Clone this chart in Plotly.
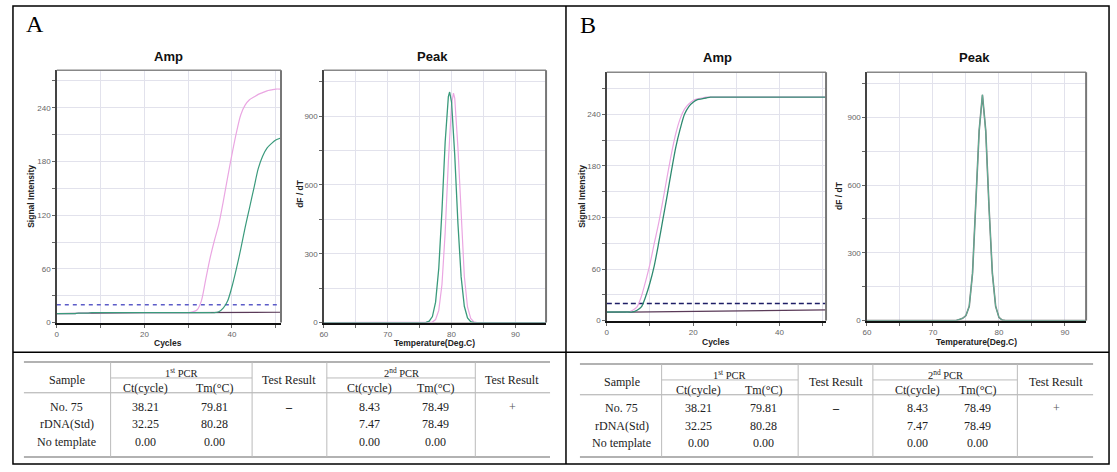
import plotly.graph_objects as go

# ---------------- data ----------------
# Panel A - amplification (cycles 0..51)
cycles_a = [0, 1, 2, 3, 4, 5, 6, 7, 8, 9,
            10, 11, 12, 13, 14, 15, 16, 17, 18, 19,
            20, 21, 22, 23, 24, 25, 26, 27, 28, 29,
            30, 31, 32, 33, 34, 35, 36, 37, 38, 39,
            40, 41, 42, 43, 44, 45, 46, 47, 48, 49,
            50, 51]
amp_a_rdna = [10, 10, 10, 10, 10, 10.5, 10.5, 10.5, 11, 11,
              11, 11, 11, 11, 11, 11, 11, 11, 11, 11,
              11, 11, 11, 11, 11, 11, 11, 11, 11, 11,
              11, 12, 14, 24, 48, 72, 92, 110, 135, 162,
              188, 212, 232, 243, 249, 252, 255, 257, 259, 260,
              261, 261]
amp_a_no75 = [10, 10, 10, 10, 10, 10.5, 10.5, 10.5, 11, 11,
              11, 11, 11, 11, 11, 11, 11, 11, 11, 11,
              11, 11, 11, 11, 11, 11, 11, 11, 11, 11,
              11, 11, 11, 11, 11, 11, 11, 12, 16, 24,
              40, 60, 82, 106, 128, 150, 172, 186, 195, 200,
              204, 206]
ntc_a_cycles = [0, 10, 20, 30, 40, 51]
ntc_a_vals = [10, 10.8, 11, 11, 11.2, 11.5]
threshold_a = 20

# Panel A - melt peak
peak_a_no75_t = [60, 75, 76, 76.5, 77, 77.5, 78, 78.5, 79, 79.5, 79.7, 80, 80.5, 81, 81.5, 82, 82.5, 83, 83.5, 95]
peak_a_no75_v = [0, 0, 1, 6, 26, 89, 237, 489, 787, 985, 1005, 961, 730, 432, 199, 71, 20, 4, 0, 0]
peak_a_rdna_t = [60, 76.5, 77, 77.5, 78, 78.5, 79, 79.5, 80, 80.3, 80.5, 81, 81.5, 82, 82.5, 83, 83.5, 84, 95]
peak_a_rdna_v = [0, 0, 2, 13, 53, 166, 392, 701, 951, 1000, 978, 762, 450, 202, 68, 18, 3, 0, 0]
peak_ntc_t = [60, 95]
peak_ntc_v = [0, 0]

# Panel B - amplification
cycles_b = [0, 1, 2, 3, 4, 5, 6, 7, 8, 9,
            10, 11, 12, 13, 14, 15, 16, 17, 18, 19,
            20, 21, 22, 23, 24, 25, 30, 35, 40, 45, 51]
amp_b_rdna = [10, 10, 10, 10, 10, 10, 12, 16, 28, 46,
              66, 90, 113, 140, 168, 195, 218, 235, 246, 252,
              256, 258, 259, 260, 260, 260, 260, 260, 260, 260, 260]
amp_b_no75 = [10, 10, 10, 10, 10, 10, 10, 12, 16, 28,
              44, 64, 90, 118, 146, 175, 202, 223, 240, 249,
              254, 257, 258, 259, 260, 260, 260, 260, 260, 260, 260]
ntc_b_cycles = [0, 10, 20, 30, 40, 51]
ntc_b_vals = [9.5, 10, 10.8, 11.5, 12, 12.5]
threshold_b = 20

# Panel B - melt peak
peak_b_t = [60, 73.5, 74, 74.5, 75, 75.5, 76, 76.5, 77, 77.5, 78, 78.5, 79, 79.5, 80, 80.5, 81, 95]
peak_b_v = [0, 0, 5, 10, 22, 63, 210, 500, 840, 1000, 840, 500, 210, 63, 14, 2, 0, 0]

# Table (same in both panels)
tbl_samples = ["No. 75", "rDNA(Std)", "No template"]
tbl_ct1 = ["38.21", "32.25", "0.00"]
tbl_tm1 = ["79.81", "80.28", "0.00"]
tbl_res1 = ["–", "", ""]
tbl_ct2 = ["8.43", "7.47", "0.00"]
tbl_tm2 = ["78.49", "78.49", "0.00"]
tbl_res2 = ["+", "", ""]

# ---------------- layout helpers ----------------
W, H = 1117, 472


def px(x):
    return x / W


def py(y):
    return 1 - y / H


PINK = "#eaa6e2"
GREEN = "#3a9a7c"
DARK = "#5a3a58"
GRID = "#e2e2ec"
SANS = "Liberation Sans, Arial, sans-serif"
SERIF = "Liberation Serif, Times New Roman, serif"

fig = go.Figure()
shapes = []
annotations = []

panels = [
    dict(k="", x0=53, x1=278, y0=71, y1=326, xr=[0, 51.2], yr=[0, 282], xt0=0, xd=20, xm=10, yd=60, ym=30),
    dict(k="2", x0=321, x1=544, y0=71, y1=326, xr=[60, 94.8], yr=[0, 1100], xt0=60, xd=10, xm=5, yd=300, ym=150),
    dict(k="3", x0=605, x1=825, y0=73, y1=324, xr=[0, 50.8], yr=[0, 289], xt0=0, xd=20, xm=10, yd=60, ym=30),
    dict(k="4", x0=866, x1=1086, y0=73, y1=324, xr=[60, 93.2], yr=[0, 1100], xt0=60, xd=10, xm=5, yd=300, ym=150),
]

for p in panels:
    k = p["k"]
    fig.layout["xaxis" + k] = dict(
        domain=[px(p["x0"]), px(p["x1"])], anchor="y" + k, range=p["xr"],
        tick0=p["xt0"], dtick=p["xd"], showgrid=True, gridcolor=GRID, gridwidth=1,
        zeroline=False, showline=True, linecolor="#111", linewidth=2,
        ticks="outside", ticklen=3, tickcolor="#666", tickwidth=1,
        tickfont=dict(family=SANS, size=8, color="#666"),
        minor=dict(tick0=p["xt0"], dtick=p["xm"], showgrid=True, gridcolor=GRID,
                   ticks="outside", ticklen=3, tickcolor="#666"),
        fixedrange=True,
    )
    fig.layout["yaxis" + k] = dict(
        domain=[py(p["y1"]), py(p["y0"])], anchor="x" + k, range=p["yr"],
        tick0=0, dtick=p["yd"], showgrid=True, gridcolor=GRID, gridwidth=1,
        zeroline=False, showline=True, linecolor="#444", linewidth=1.5,
        ticks="outside", ticklen=3, tickcolor="#666", tickwidth=1,
        tickfont=dict(family=SANS, size=8, color="#666"),
        minor=dict(tick0=0, dtick=p["ym"], showgrid=True, gridcolor=GRID,
                   ticks="outside", ticklen=3, tickcolor="#666"),
        fixedrange=True,
    )
    # top and right frame lines
    shapes.append(dict(type="line", xref="paper", yref="paper", x0=px(p["x0"]), x1=px(p["x1"]),
                       y0=py(p["y0"]), y1=py(p["y0"]), line=dict(color="#888", width=1.5)))
    shapes.append(dict(type="line", xref="paper", yref="paper", x0=px(p["x1"]), x1=px(p["x1"]),
                       y0=py(p["y0"]), y1=py(p["y1"]), line=dict(color="#777", width=2)))


def line_trace(x, y, color, k, width=1.2, dash=None, shape="spline"):
    fig.add_trace(go.Scatter(
        x=x, y=y, mode="lines", hoverinfo="skip", showlegend=False,
        line=dict(color=color, width=width, dash=dash, shape=shape, smoothing=0.8 if shape == "spline" else None),
        xaxis="x" + k, yaxis="y" + k))


# Panel A amp
line_trace(ntc_a_cycles, ntc_a_vals, DARK, "", width=1.2, shape="linear")
line_trace([0, 51.2], [threshold_a, threshold_a], "#5c5cc8", "", width=1.5, dash="4px,4px", shape="linear")
line_trace(cycles_a, amp_a_rdna, PINK, "", width=1.2)
line_trace(cycles_a, amp_a_no75, GREEN, "", width=1.2)
# Panel A peak
line_trace(peak_ntc_t, peak_ntc_v, "#888", "2", width=1.2, shape="linear")
line_trace(peak_a_rdna_t, peak_a_rdna_v, PINK, "2", width=1.2, shape="linear")
line_trace(peak_a_no75_t, peak_a_no75_v, GREEN, "2", width=1.3, shape="linear")
# Panel B amp
line_trace([0, 50.8], [threshold_b, threshold_b], "#1e1e66", "3", width=1.5, dash="5px,3px", shape="linear")
line_trace(ntc_b_cycles, ntc_b_vals, DARK, "3", width=1.2, shape="linear")
line_trace(cycles_b, amp_b_rdna, PINK, "3", width=1.2)
line_trace(cycles_b, amp_b_no75, "#2f8a70", "3", width=1.3)
# Panel B peak
line_trace(peak_ntc_t, peak_ntc_v, "#888", "4", width=1.2, shape="linear")
line_trace(peak_b_t, peak_b_v, "#7a7a7a", "4", width=1.6, shape="linear")
line_trace(peak_b_t, peak_b_v, "#5fb096", "4", width=1.0, shape="linear")


def ann(x, y, text, size, family=SANS, color="#111", angle=0, xanchor="center"):
    annotations.append(dict(x=px(x), y=py(y), xref="paper", yref="paper", text=text, showarrow=False,
                            font=dict(family=family, size=size, color=color), textangle=angle,
                            xanchor=xanchor, yanchor="middle"))


# panel letters
ann(20, 24, "A", 24, family=SERIF, color="#000", xanchor="left")
ann(576, 25, "B", 24, family=SERIF, color="#000", xanchor="left")
# titles
ann(165, 57, "<b>Amp</b>", 13)
ann(430, 57, "<b>Peak</b>", 13)
ann(716, 58, "<b>Amp</b>", 13)
ann(974, 58, "<b>Peak</b>", 13)
# axis titles
ann(165, 347, "<b>Cycles</b>", 8.5, color="#222")
ann(432, 347, "<b>Temperature(Deg.C)</b>", 8.5, color="#222")
ann(715, 346, "<b>Cycles</b>", 8.5, color="#222")
ann(976, 346, "<b>Temperature(Deg.C)</b>", 8.5, color="#222")
ann(27, 198, "<b>Signal Intensity</b>", 8.5, color="#222", angle=-90)
ann(297, 195, "<b>dF / dT</b>", 8.5, color="#222", angle=-90)
ann(580, 198, "<b>Signal Intensity</b>", 8.5, color="#222", angle=-90)
ann(838, 197, "<b>dF / dT</b>", 8.5, color="#222", angle=-90)

# outer frame
shapes.append(dict(type="rect", xref="paper", yref="paper", x0=px(9), x1=px(1109), y0=py(469), y1=py(6),
                   line=dict(color="#000", width=1.5)))
shapes.append(dict(type="line", xref="paper", yref="paper", x0=px(9), x1=px(1109), y0=py(356), y1=py(356),
                   line=dict(color="#000", width=1.5)))
shapes.append(dict(type="line", xref="paper", yref="paper", x0=px(564), x1=px(564), y0=py(6), y1=py(469),
                   line=dict(color="#000", width=1.5)))


def hl(x0, x1, y, color="#999", width=1.2):
    shapes.append(dict(type="line", xref="paper", yref="paper", x0=px(x0), x1=px(x1), y0=py(y), y1=py(y),
                       line=dict(color=color, width=width)))


def vl(x, y0, y1, color="#bbb", width=1):
    shapes.append(dict(type="line", xref="paper", yref="paper", x0=px(x), x1=px(x), y0=py(y0), y1=py(y1),
                       line=dict(color=color, width=width)))


def table(left, right, dv, cx, top, mid, hb, rows, bottom):
    # dv: [after sample, after 1st group, after test result, after 2nd group]
    hl(left, right, top, "#999", 1.5)
    hl(dv[0], dv[1], mid, "#bbb", 1)
    hl(dv[2], dv[3], mid, "#bbb", 1)
    hl(left, right, hb, "#aaa", 1)
    hl(left, right, bottom, "#999", 1.5)
    for x in dv:
        vl(x, top, bottom)
    fs = 12
    c = "#222"
    d = 2.5  # visual centring of serif glyphs
    hy = (top + hb) / 2 + d
    gy = (top + mid) / 2 + d
    sy = (mid + hb) / 2 + d
    ann(cx["sample"], hy, "Sample", fs, SERIF, c)
    ann((dv[0] + dv[1]) / 2, gy, "1<sup>st</sup> PCR", 10.5, SERIF, c)
    ann(cx["ct1"], sy, "Ct(cycle)", fs, SERIF, c)
    ann(cx["tm1"], sy, "Tm(°C)", fs, SERIF, c)
    ann(cx["res1"], hy, "Test Result", fs, SERIF, c)
    ann((dv[2] + dv[3]) / 2, gy, "2<sup>nd</sup> PCR", 10.5, SERIF, c)
    ann(cx["ct2"], sy, "Ct(cycle)", fs, SERIF, c)
    ann(cx["tm2"], sy, "Tm(°C)", fs, SERIF, c)
    ann(cx["res2"], hy, "Test Result", fs, SERIF, c)
    for i, ry in enumerate(rows):
        ry = ry + d
        ann(cx["sample"], ry, tbl_samples[i], fs, SERIF, c)
        ann(cx["ct1"], ry, tbl_ct1[i], fs, SERIF, c)
        ann(cx["tm1"], ry, tbl_tm1[i], fs, SERIF, c)
        if tbl_res1[i]:
            ann(cx["res1"], ry, "<b>" + tbl_res1[i] + "</b>", fs, SERIF, c)
        ann(cx["ct2"], ry, tbl_ct2[i], fs, SERIF, c)
        ann(cx["tm2"], ry, tbl_tm2[i], fs, SERIF, c)
        if tbl_res2[i]:
            ann(cx["res2"], ry, tbl_res2[i], fs, SERIF, "#555")


table(20, 548, [107, 249, 324, 473],
      dict(sample=63, ct1=142, tm1=211, res1=286, ct2=367, tm2=433, res2=510),
      366, 382, 397, [409, 426, 444], 462)
table(578, 1093, [660, 797, 872, 1017],
      dict(sample=620, ct1=697, tm1=762, res1=835, ct2=917, tm2=977, res2=1056),
      368, 384, 399, [410, 428, 445], 462)

fig.update_layout(
    width=W, height=H, margin=dict(l=0, r=0, t=0, b=0),
    paper_bgcolor="white", plot_bgcolor="white",
    shapes=shapes, annotations=annotations, showlegend=False,
)

fig.write_html("out.html", config={"displayModeBar": False, "staticPlot": True},
               post_script="document.body.style.margin='0';document.body.style.overflow='hidden';")
